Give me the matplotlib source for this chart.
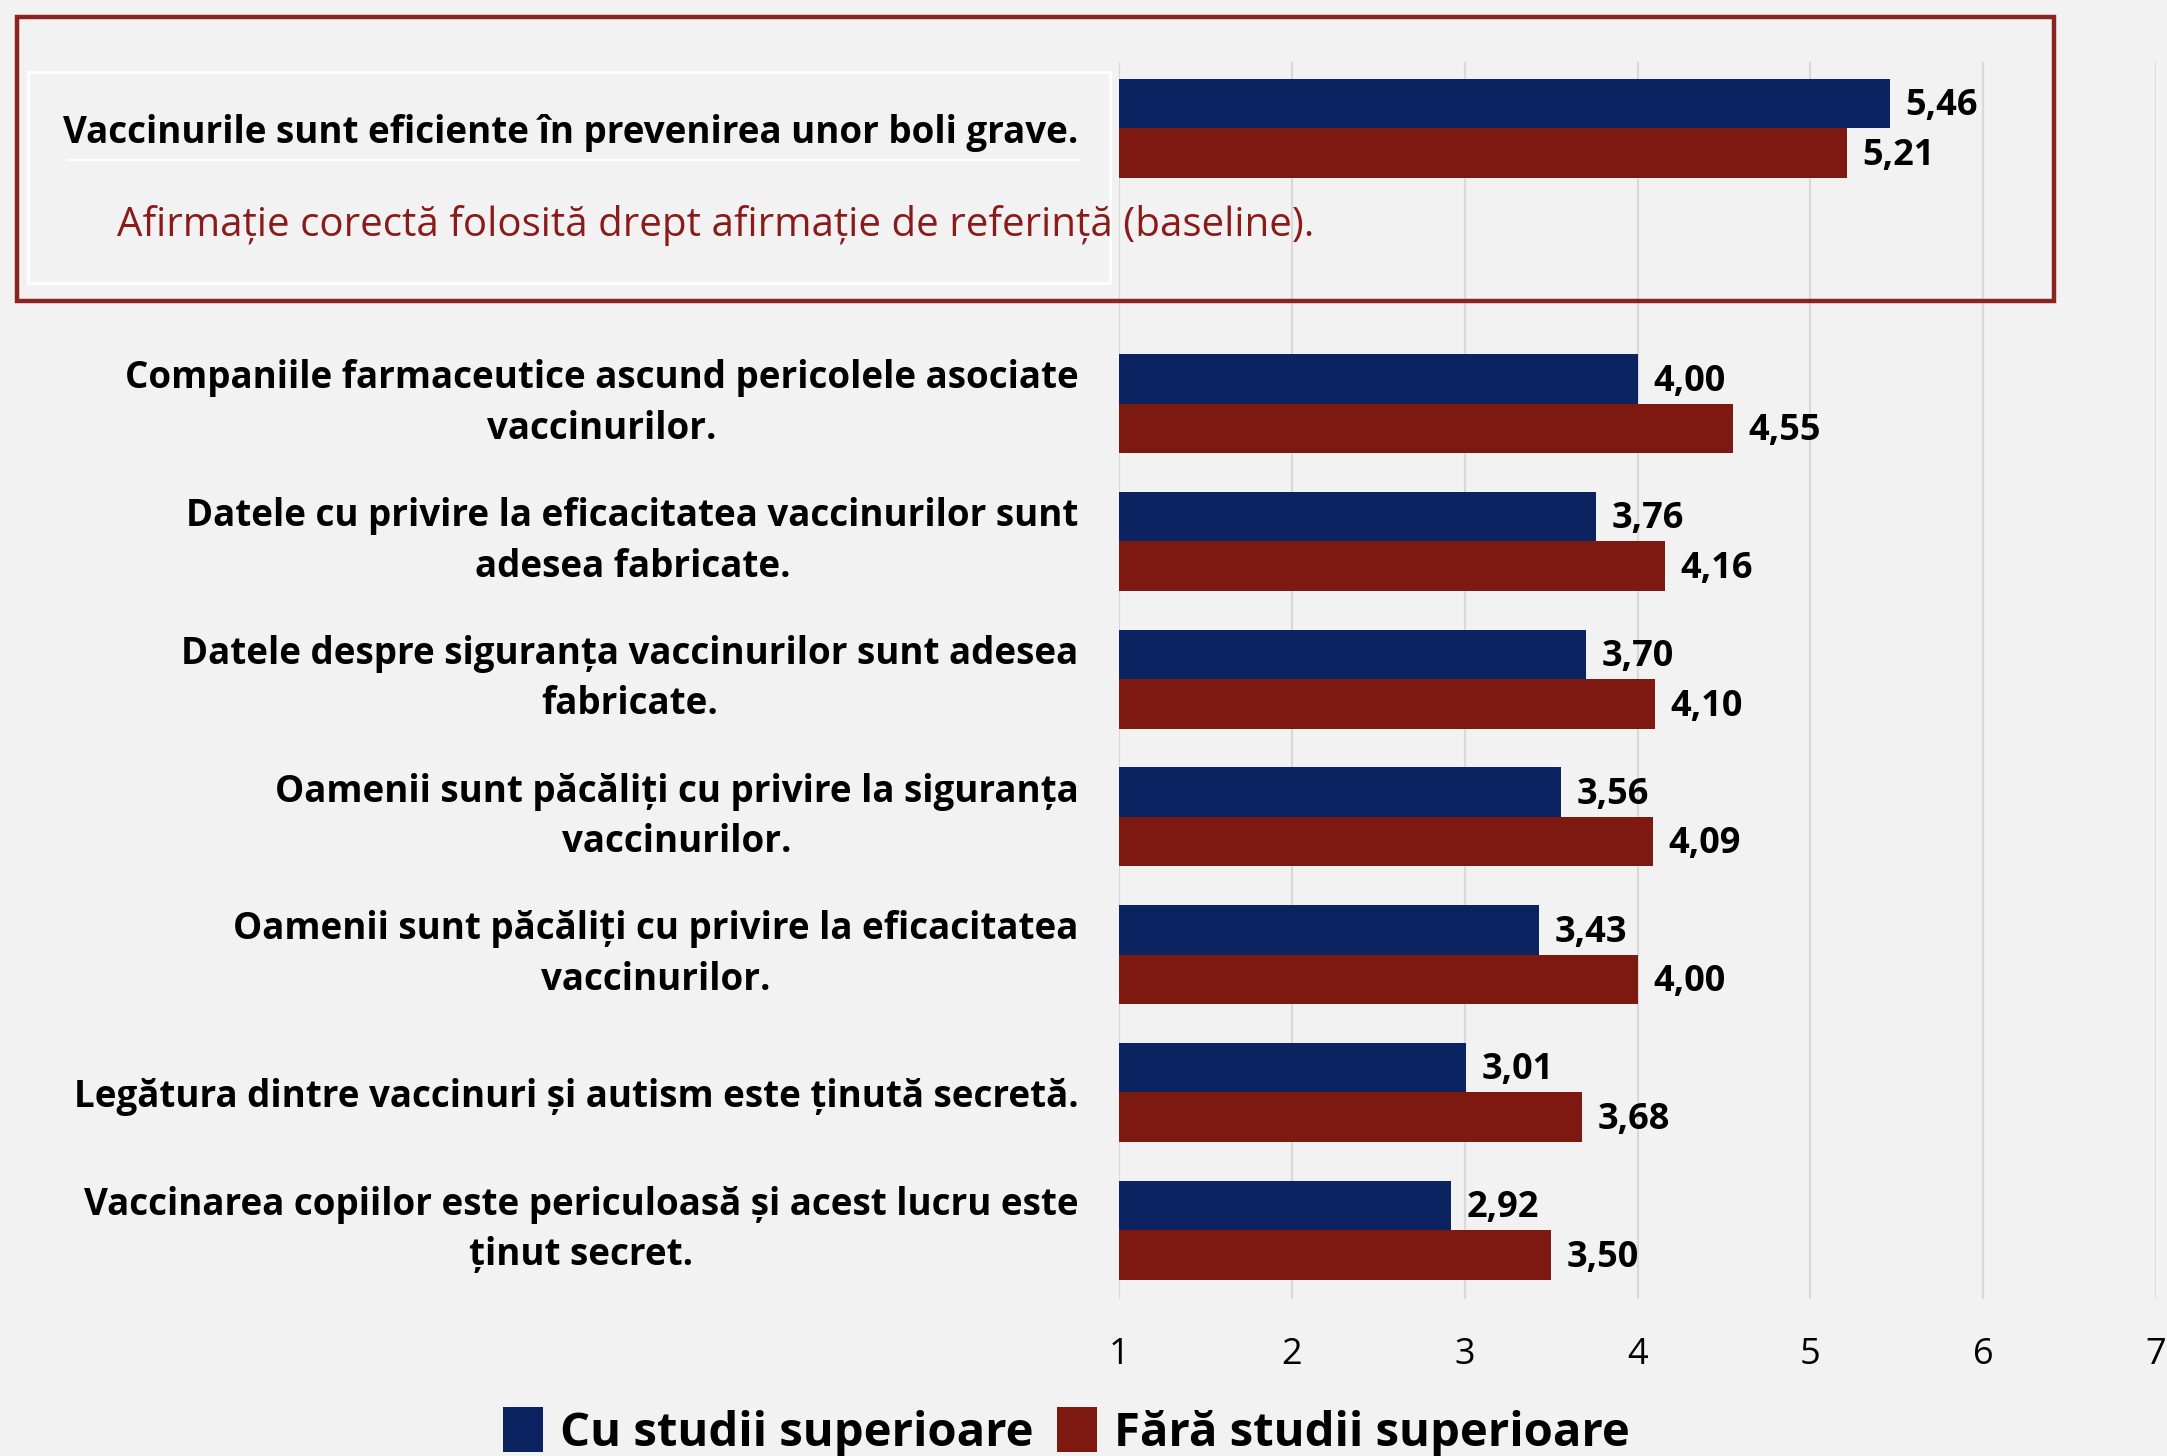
import numpy as np
import matplotlib
matplotlib.use("Agg")
import matplotlib.pyplot as plt
from matplotlib.patches import Rectangle, Patch
from matplotlib.lines import Line2D

categories = [
    "Vaccinurile sunt eficiente în prevenirea unor boli grave.",
    "Companiile farmaceutice ascund pericolele asociate\nvaccinurilor.",
    "Datele cu privire la eficacitatea vaccinurilor sunt\nadesea fabricate.",
    "Datele despre siguranța vaccinurilor sunt adesea\nfabricate.",
    "Oamenii sunt păcăliți cu privire la siguranța\nvaccinurilor.",
    "Oamenii sunt păcăliți cu privire la eficacitatea\nvaccinurilor.",
    "Legătura dintre vaccinuri și autism este ținută secretă.",
    "Vaccinarea copiilor este periculoasă și acest lucru este\nținut secret.",
]
cu_studii = [5.46, 4.00, 3.76, 3.70, 3.56, 3.43, 3.01, 2.92]
fara_studii = [5.21, 4.55, 4.16, 4.10, 4.09, 4.00, 3.68, 3.50]
series_names = ["Cu studii superioare", "Fără studii superioare"]
x_ticks = [1, 2, 3, 4, 5, 6, 7]
note_text = "Afirmație corectă folosită drept afirmație de referință (baseline)."

BLUE = "#0b2360"
RED = "#7e1912"
BG = "#f2f2f2"
FONT = ["Open Sans", "DejaVu Sans"]
plt.rcParams["font.family"] = FONT

W, H = 2167, 1456
fig = plt.figure(figsize=(W / 100, H / 100), dpi=100, facecolor=BG)

# box around baseline statement (drawn first, behind axes)
fig.patches.append(Rectangle((17 / W, 1 - 301 / H), (2054 - 17) / W, (301 - 17) / H,
                             transform=fig.transFigure, fill=False,
                             edgecolor="#8b2323", linewidth=3.2, zorder=0))
fig.patches.append(Rectangle((28 / W, 1 - 283 / H), (1110 - 28) / W, (283 - 72) / H,
                             transform=fig.transFigure, fill=False,
                             edgecolor="white", linewidth=2, zorder=0))
fig.lines.append(Line2D([68 / W, 1078 / W], [1 - 160 / H, 1 - 160 / H],
                        transform=fig.transFigure, color="white", linewidth=1.5))

ax = fig.add_axes([1119 / W, 1 - 1299 / H, (2156 - 1119) / W, (1299 - 62) / H])
ax.set_facecolor("none")

pos = np.array([0, 2, 3, 4, 5, 6, 7, 8], dtype=float)
h = 0.36
base = 1.0
cu = np.array(cu_studii)
fa = np.array(fara_studii)
ax.barh(pos - h / 2, cu - base, left=base, height=h, color=BLUE, zorder=3)
ax.barh(pos + h / 2, fa - base, left=base, height=h, color=RED, zorder=3)

for y, v in zip(pos - h / 2, cu):
    ax.text(v + 0.09, y + 0.02, f"{v:.2f}".replace(".", ","), va="center", ha="left",
            fontsize=26, fontweight="bold", color="black")
for y, v in zip(pos + h / 2, fa):
    ax.text(v + 0.09, y + 0.02, f"{v:.2f}".replace(".", ","), va="center", ha="left",
            fontsize=26, fontweight="bold", color="black")

ax.set_xlim(1, 7)
ax.set_ylim(8.5, -0.48)
ax.set_xticks(x_ticks)
ax.set_xticklabels([str(t) for t in x_ticks], fontsize=26)
ax.set_yticks(pos)
ax.set_yticklabels(categories, fontsize=26.5, fontweight="bold", linespacing=1.43)
for t in ax.get_yticklabels():
    t.set_multialignment("center")
    if "\n" in t.get_text():
        t.set_verticalalignment("center")
ax.tick_params(axis="both", length=0)
ax.tick_params(axis="y", pad=29)
ax.tick_params(axis="x", pad=27)
ax.grid(axis="x", color="#d9d9d9", linewidth=1.5, zorder=0)
for s in ax.spines.values():
    s.set_visible(False)

fig.text(117 / W, 1 - 226 / H, note_text, color="#8b1a1a", fontsize=29,
         va="center", ha="left")

handles = [Patch(facecolor=BLUE), Patch(facecolor=RED)]
fig.legend(handles, series_names, loc="center", bbox_to_anchor=(0.492, 1 - 1432 / H),
           ncol=2, frameon=False, prop={"family": FONT, "weight": "bold", "size": 34},
           handlelength=0.85, handleheight=1.1, handletextpad=0.35, columnspacing=0.5)

fig.savefig("out.png", dpi=100, facecolor=BG)
